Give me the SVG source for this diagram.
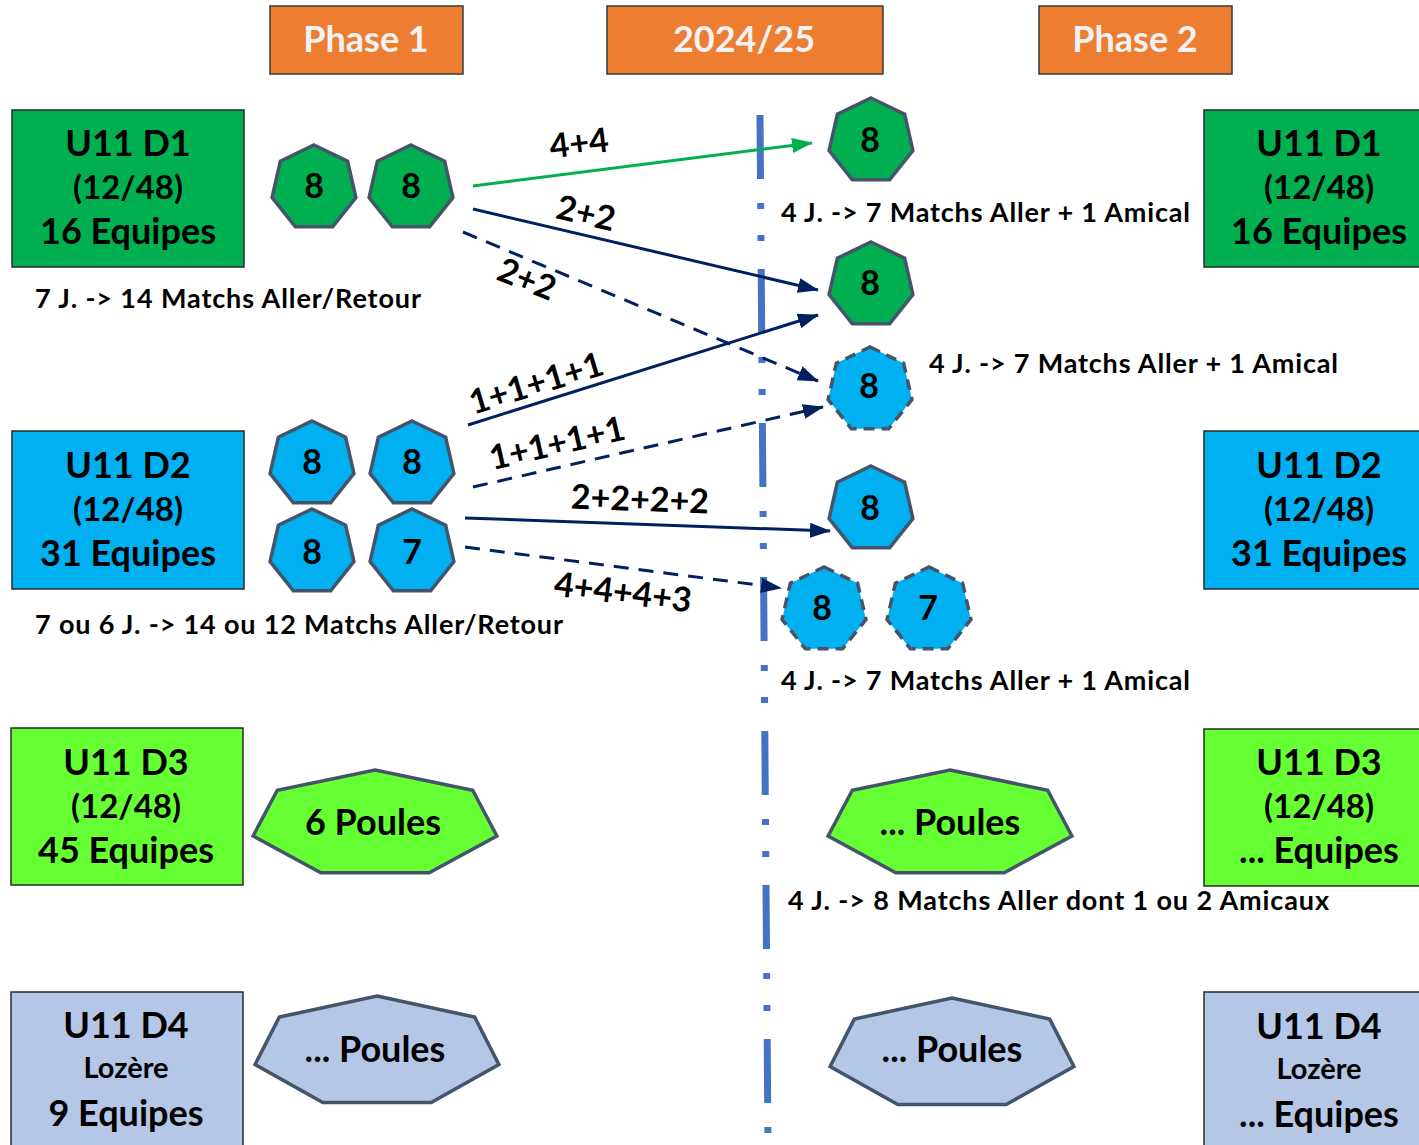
<svg xmlns="http://www.w3.org/2000/svg" width="1419" height="1145" viewBox="0 0 1419 1145">
<style>
text{font-family:Lato,"Open Sans","Liberation Sans",sans-serif;font-weight:bold;fill:#000}
.hdr{fill:#ED7D31;stroke:#3A3A3A;stroke-width:1.5}
.hdrt{fill:#F2F2F2;font-size:36px;text-anchor:middle}
.box{stroke:#2A2A2A;stroke-width:1.5}
.bt{font-size:36px;text-anchor:middle}
.bp{font-size:33px;text-anchor:middle}
.bs{font-size:29px;text-anchor:middle}
.g{fill:#00B050}.b{fill:#00B0F0}.lg{fill:#66FF33}.pb{fill:#B4C7E7}
.hep{stroke:#44546A;stroke-width:3.5}
.dsh{stroke-dasharray:11 7}
.num{font-size:34px;text-anchor:middle}
.note{font-size:27px}
.lbl{font-size:34px;text-anchor:middle}
.nav{stroke:#002060;stroke-width:3;fill:none}
.grn{stroke:#00B050;stroke-width:3;fill:none}
.dl{stroke-dasharray:15 10}
</style>
<defs>
<polygon id="hp" points="0,-43 33.62,-26.81 41.92,9.57 18.66,38.74 -18.66,38.74 -41.92,9.57 -33.62,-26.81"/>
<polygon id="pl" points="0,-54 97.7,-33.7 121.9,12 54.2,48.7 -54.2,48.7 -121.9,12 -97.7,-33.7"/>
<polygon id="pl2" points="0,-56 97.7,-34.9 121.9,12.5 54.2,50.5 -54.2,50.5 -121.9,12.5 -97.7,-34.9"/>
<marker id="an" markerUnits="userSpaceOnUse" markerWidth="22" markerHeight="16" refX="20" refY="7.5" orient="auto"><path d="M0,0 L21,7.5 L0,15 z" fill="#002060"/></marker>
<marker id="ag" markerUnits="userSpaceOnUse" markerWidth="22" markerHeight="16" refX="20" refY="7.5" orient="auto"><path d="M0,0 L21,7.5 L0,15 z" fill="#00B050"/></marker>
</defs>

<g id="headers">
<g id="h-phase1"><rect class="hdr" x="270" y="6" width="193" height="68"/><text class="hdrt" x="366" y="52">Phase 1</text></g>
<g id="h-season"><rect class="hdr" x="607" y="6" width="276" height="68"/><text class="hdrt" x="744" y="52">2024/25</text></g>
<g id="h-phase2"><rect class="hdr" x="1039" y="6" width="193" height="68"/><text class="hdrt" x="1135" y="52">Phase 2</text></g>
</g>

<g id="divider"><line x1="760" y1="115" x2="768" y2="1145" stroke="#4472C4" stroke-width="7" stroke-dasharray="64 24 6 26 6 28"/></g>

<g id="left-d1"><rect class="box g" x="12" y="110" width="232" height="157"/>
<text class="bt" x="128" y="156">U11 D1</text><text class="bp" x="128" y="199">(12/48)</text><text class="bt" x="128" y="244">16 Equipes</text></g>
<g id="left-d2"><rect class="box b" x="12" y="431" width="232" height="158"/>
<text class="bt" x="128" y="478">U11 D2</text><text class="bp" x="128" y="521">(12/48)</text><text class="bt" x="128" y="566">31 Equipes</text></g>
<g id="left-d3"><rect class="box lg" x="11" y="728" width="232" height="157"/>
<text class="bt" x="126" y="775">U11 D3</text><text class="bp" x="126" y="818">(12/48)</text><text class="bt" x="126" y="863">45 Equipes</text></g>
<g id="left-d4"><rect class="box pb" x="11" y="992" width="232" height="160"/>
<text class="bt" x="126" y="1038">U11 D4</text><text class="bs" x="126" y="1078">Lozère</text><text class="bt" x="126" y="1126">9 Equipes</text></g>

<g id="right-d1"><rect class="box g" x="1204" y="110" width="220" height="157"/>
<text class="bt" x="1319" y="156">U11 D1</text><text class="bp" x="1319" y="199">(12/48)</text><text class="bt" x="1319" y="244">16 Equipes</text></g>
<g id="right-d2"><rect class="box b" x="1204" y="431" width="220" height="158"/>
<text class="bt" x="1319" y="478">U11 D2</text><text class="bp" x="1319" y="521">(12/48)</text><text class="bt" x="1319" y="566">31 Equipes</text></g>
<g id="right-d3"><rect class="box lg" x="1204" y="729" width="220" height="157"/>
<text class="bt" x="1319" y="775">U11 D3</text><text class="bp" x="1319" y="818">(12/48)</text><text class="bt" x="1319" y="863">... Equipes</text></g>
<g id="right-d4"><rect class="box pb" x="1204" y="992" width="220" height="160"/>
<text class="bt" x="1319" y="1039">U11 D4</text><text class="bs" x="1319" y="1079">Lozère</text><text class="bt" x="1319" y="1127">... Equipes</text></g>

<g id="p1-d1-a"><use href="#hp" class="hep g" x="314" y="188"/><text class="num" x="314" y="198">8</text></g>
<g id="p1-d1-b"><use href="#hp" class="hep g" x="411" y="188"/><text class="num" x="411" y="198">8</text></g>
<g id="p1-d2-a"><use href="#hp" class="hep b" x="312" y="464"/><text class="num" x="312" y="474">8</text></g>
<g id="p1-d2-b"><use href="#hp" class="hep b" x="412" y="464"/><text class="num" x="412" y="474">8</text></g>
<g id="p1-d2-c"><use href="#hp" class="hep b" x="312" y="552"/><text class="num" x="312" y="564">8</text></g>
<g id="p1-d2-d"><use href="#hp" class="hep b" x="412" y="552"/><text class="num" x="412" y="564">7</text></g>

<g id="p2-g1"><use href="#hp" class="hep g" x="871" y="141"/><text class="num" x="870" y="152">8</text></g>
<g id="p2-g2"><use href="#hp" class="hep g" x="871" y="285"/><text class="num" x="870" y="295">8</text></g>
<g id="p2-b1"><use href="#hp" class="hep b dsh" x="870" y="390"/><text class="num" x="869" y="398">8</text></g>
<g id="p2-b2"><use href="#hp" class="hep b" x="871" y="509"/><text class="num" x="870" y="520">8</text></g>
<g id="p2-b3"><use href="#hp" class="hep b dsh" x="824" y="610"/><text class="num" x="822" y="620">8</text></g>
<g id="p2-b4"><use href="#hp" class="hep b dsh" x="929" y="610"/><text class="num" x="928" y="620">7</text></g>

<g id="p1-d3"><use href="#pl" class="hep lg" x="375" y="824"/><text class="bt" x="373" y="835">6 Poules</text></g>
<g id="p2-d3"><use href="#pl" class="hep lg" x="950" y="824"/><text class="bt" x="950" y="835">... Poules</text></g>
<g id="p1-d4"><use href="#pl2" class="hep pb" x="377" y="1052"/><text class="bt" x="375" y="1062">... Poules</text></g>
<g id="p2-d4"><use href="#pl2" class="hep pb" x="952" y="1054"/><text class="bt" x="952" y="1062">... Poules</text></g>

<g id="connectors">
<line class="grn" x1="473" y1="186" x2="812" y2="143" marker-end="url(#ag)"/>
<line class="nav" x1="473" y1="209" x2="818" y2="290" marker-end="url(#an)"/>
<line class="nav dl" x1="463" y1="232" x2="818" y2="381" marker-end="url(#an)"/>
<line class="nav" x1="468" y1="425" x2="818" y2="315" marker-end="url(#an)"/>
<line class="nav dl" x1="473" y1="487" x2="823" y2="407" marker-end="url(#an)"/>
<line class="nav" x1="465" y1="518" x2="830" y2="531" marker-end="url(#an)"/>
<line class="nav dl" x1="465" y1="547" x2="781" y2="588" marker-end="url(#an)"/>
<text class="lbl" transform="translate(579,143) rotate(-7)" y="12">4+4</text>
<text class="lbl" transform="translate(586,213) rotate(13)" y="12">2+2</text>
<text class="lbl" transform="translate(527,279) rotate(22)" y="12">2+2</text>
<text class="lbl" transform="translate(536,383) rotate(-17)" y="12">1+1+1+1</text>
<text class="lbl" transform="translate(557,443) rotate(-13)" y="12">1+1+1+1</text>
<text class="lbl" transform="translate(640,499) rotate(2)" y="12">2+2+2+2</text>
<text class="lbl" transform="translate(623,592) rotate(7)" y="12">4+4+4+3</text>
</g>

<g id="notes">
<text class="note" x="35" y="308" textLength="386">7 J. -&gt; 14 Matchs Aller/Retour</text>
<text class="note" x="35" y="634" textLength="528">7 ou 6 J. -&gt; 14 ou 12 Matchs Aller/Retour</text>
<text class="note" x="781" y="222" textLength="409">4 J. -&gt; 7 Matchs Aller + 1 Amical</text>
<text class="note" x="929" y="373" textLength="409">4 J. -&gt; 7 Matchs Aller + 1 Amical</text>
<text class="note" x="781" y="690" textLength="409">4 J. -&gt; 7 Matchs Aller + 1 Amical</text>
<text class="note" x="788" y="910" textLength="541">4 J. -&gt; 8 Matchs Aller dont 1 ou 2 Amicaux</text>
</g>
</svg>
